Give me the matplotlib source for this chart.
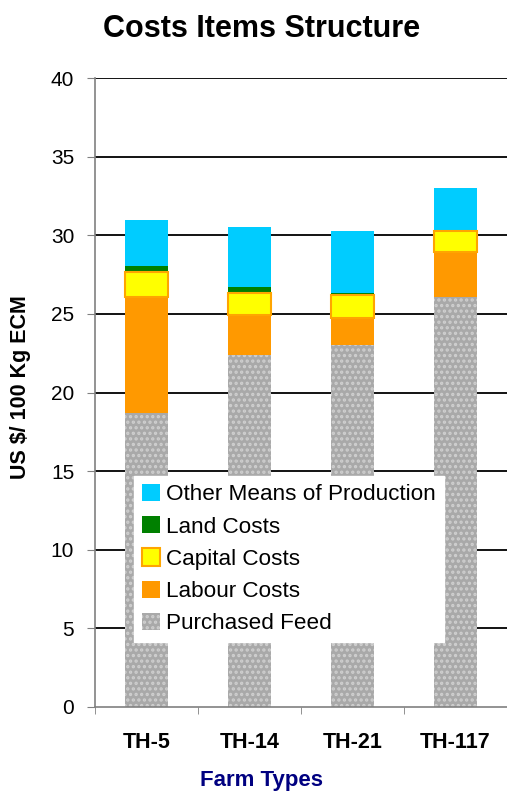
import numpy as np
import matplotlib
matplotlib.use("Agg")
import matplotlib.pyplot as plt
from matplotlib.patches import Patch

plt.rcParams["font.family"] = ["Liberation Sans", "DejaVu Sans"]
plt.rcParams["hatch.linewidth"] = 1.6

# data (US $ / 100 kg ECM)
farms = ["TH-5", "TH-14", "TH-21", "TH-117"]
feed = [18.7, 22.4, 23.0, 26.1]
labour = [7.4, 2.5, 1.75, 2.85]
capital = [1.55, 1.45, 1.45, 1.35]
land = [0.4, 0.35, 0.1, 0.0]
other = [2.95, 3.85, 4.0, 2.7]
yticks = [0, 5, 10, 15, 20, 25, 30, 35, 40]

fig = plt.figure(figsize=(5.07, 7.91), dpi=100)
ax = fig.add_axes([95 / 507, 1 - 707 / 791, 1 - 95 / 507, (707 - 78) / 791])

x = np.arange(len(farms))
w = 0.41
for v in yticks[1:]:
    ax.axhline(v, color="black", lw=1.3, zorder=0)

b0 = np.zeros(len(farms))
ax.bar(x, feed, w, bottom=b0, color="#a9a9a9", hatch="...", edgecolor="#cfcfcf", lw=0, zorder=2)
b0 = b0 + feed
ax.bar(x, labour, w, bottom=b0, color="#ff9900", lw=0, zorder=2)
b0 = b0 + labour
ax.bar(x, capital, w, bottom=b0, color="#ffff00", edgecolor="#ffa500", lw=1.5, zorder=3)
b0 = b0 + capital
ax.bar(x, land, w, bottom=b0, color="#008000", lw=0, zorder=2)
b0 = b0 + land
ax.bar(x, other, w, bottom=b0, color="#00ccff", lw=0, zorder=2)

ax.set_xlim(-0.5, len(farms) - 0.5)
ax.set_ylim(0, 40)
ax.set_yticks(yticks)
ax.tick_params(axis="y", labelsize=15, length=6, color="#808080", pad=9)
ax.set_xticks(x)
ax.set_xticklabels(farms, fontsize=15.5, fontweight="bold")
ax.set_xticks(np.arange(len(farms)) - 0.5, minor=True)
ax.tick_params(axis="x", which="major", length=0, pad=18)
ax.tick_params(axis="x", which="minor", length=5, color="#808080")
for s in ["top", "right"]:
    ax.spines[s].set_visible(False)
for s in ["left", "bottom"]:
    ax.spines[s].set_color("#808080")
    ax.spines[s].set_linewidth(1.2)

fig.text(21 / 507, 1 - 387 / 791, "US $/ 100 Kg ECM", rotation=90, ha="center", va="center",
         fontsize=15.5, fontweight="bold")
fig.text(262 / 507, 1 - 786 / 791, "Farm Types", ha="center", va="baseline",
         fontsize=16, fontweight="bold", color="#000080")
fig.text(262 / 507, 1 - 29 / 791, "Costs Items Structure", ha="center", va="center",
         fontsize=22, fontweight="bold")

handles = [
    Patch(facecolor="#00ccff", label="Other Means of Production"),
    Patch(facecolor="#008000", label="Land Costs"),
    Patch(facecolor="#ffff00", edgecolor="#ffa500", lw=1.5, label="Capital Costs"),
    Patch(facecolor="#ff9900", label="Labour Costs"),
    Patch(facecolor="#a9a9a9", hatch="...", edgecolor="#cfcfcf", lw=0, label="Purchased Feed"),
]
leg = fig.legend(handles=handles, loc="upper left", bbox_to_anchor=(134 / 507, 1 - 476 / 791),
                 fontsize=16.2, frameon=True, fancybox=False, borderaxespad=0,
                 handlelength=0.8, handleheight=0.8, handletextpad=0.28, labelspacing=0.48,
                 borderpad=0.35)
leg.get_frame().set_facecolor("white")
leg.get_frame().set_edgecolor("white")
leg.get_frame().set_alpha(1)

fig.savefig("out.png", dpi=100)
